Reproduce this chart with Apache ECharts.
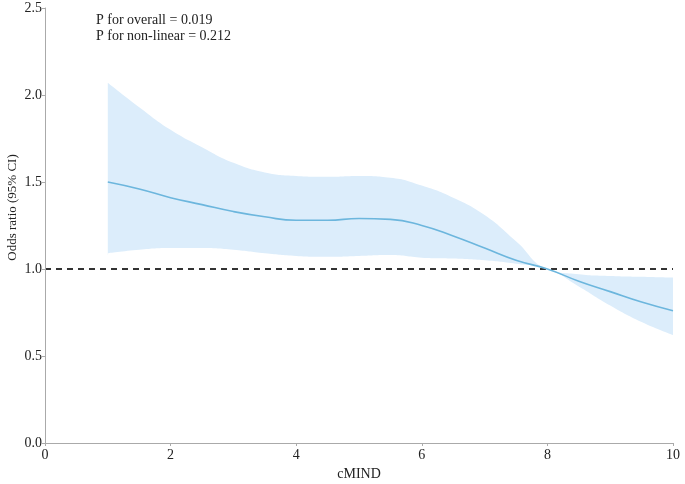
<!DOCTYPE html>
<html>
<head>
<meta charset="utf-8">
<script src="https://cdn.jsdelivr.net/npm/echarts@6/dist/echarts.min.js"></script>
<style>
  html, body { margin: 0; padding: 0; background: #fff; }
  #main { width: 685px; height: 484px; }
</style>
</head>
<body>
<div id="main"></div>
<script>
// cMIND 取值
var xs = [1, 1.5, 2, 2.5, 3, 3.5, 4, 4.5, 5, 5.5, 6, 6.5, 7, 7.5, 8, 8.5, 9, 9.5, 10];
// OR 估计值
var orValue = [1.50, 1.46, 1.41, 1.37, 1.33, 1.30, 1.28, 1.28, 1.29, 1.285, 1.25, 1.19, 1.12, 1.05, 1.00, 0.93, 0.87, 0.81, 0.76];
// 95% CI 上下限
var ciUpper = [2.07, 1.93, 1.80, 1.70, 1.61, 1.555, 1.535, 1.53, 1.535, 1.525, 1.48, 1.41, 1.31, 1.16, 1.00, 0.97, 0.96, 0.955, 0.95];
var ciLower = [1.09, 1.11, 1.12, 1.12, 1.11, 1.09, 1.075, 1.07, 1.075, 1.08, 1.065, 1.06, 1.05, 1.03, 1.00, 0.90, 0.79, 0.695, 0.62];
var refLine = 1.0;
var annotations = ['P for overall = 0.019', 'P for non-linear = 0.212'];

(function () {
  var myChart = echarts.init(document.getElementById('main'));
  var font = '"Liberation Serif", "Times New Roman", serif';

  function pairs(ys) {
    return xs.map(function (x, i) { return [x, ys[i]]; });
  }
  var first = 0, last = xs.length - 1;

  var option = {
    animation: false,
    grid: { left: 45, right: 12, top: 8, bottom: 41, outerBoundsMode: 'none', containLabel: false },
    graphic: [{
      type: 'text',
      left: 96,
      top: 12,
      z: 100,
      style: {
        text: annotations.join('\n'),
        font: '14px ' + font,
        fill: '#222',
        lineHeight: 16
      }
    }],
    xAxis: {
      type: 'value',
      min: 0,
      max: 10,
      interval: 2,
      z: 20,
      name: 'cMIND',
      nameLocation: 'middle',
      nameGap: 20,
      nameTextStyle: { fontFamily: font, fontSize: 14, color: '#222' },
      axisLine: { lineStyle: { color: '#aaa' } },
      axisTick: { show: true, length: 3, lineStyle: { color: '#aaa' } },
      axisLabel: { fontFamily: font, fontSize: 14, color: '#222', margin: 5 },
      splitLine: { show: false }
    },
    yAxis: {
      type: 'value',
      min: 0,
      max: 2.5,
      interval: 0.5,
      z: 20,
      name: 'Odds ratio (95% CI)',
      nameLocation: 'middle',
      nameGap: 26,
      nameMoveOverlap: false,
      nameTextStyle: { fontFamily: font, fontSize: 13, color: '#222', padding: [0, 0, 0, 36] },
      axisLine: { show: true, lineStyle: { color: '#aaa' } },
      axisTick: { show: true, length: 3, lineStyle: { color: '#aaa' } },
      axisLabel: {
        fontFamily: font, fontSize: 14, color: '#222', margin: 3,
        formatter: function (v) { return v.toFixed(1); }
      },
      splitLine: { show: false }
    },
    series: [
      {
        // 上限：填充到 0
        name: 'upper',
        type: 'line',
        smooth: true,
        symbol: 'none',
        lineStyle: { width: 0, opacity: 0 },
        areaStyle: { color: '#dcedfb', opacity: 1 },
        data: pairs(ciUpper),
        z: 1
      },
      {
        // 下限：白色遮住下方
        name: 'lower',
        type: 'line',
        smooth: true,
        symbol: 'none',
        lineStyle: { width: 0, opacity: 0 },
        areaStyle: { color: '#ffffff', opacity: 1 },
        data: pairs(ciLower),
        z: 2
      },
      {
        // 两端接缝处理
        name: 'edgeL',
        type: 'line',
        symbol: 'none',
        lineStyle: { color: '#ffffff', width: 2 },
        data: [[xs[first], 0], [xs[first], ciLower[first] - 0.01]],
        z: 2
      },
      {
        name: 'edgeR',
        type: 'line',
        symbol: 'none',
        lineStyle: { color: '#ffffff', width: 2 },
        data: [[xs[last], 0], [xs[last], ciLower[last] - 0.01]],
        z: 2
      },
      {
        name: 'ref',
        type: 'line',
        symbol: 'none',
        lineStyle: { color: '#333', width: 2, type: [6, 5] },
        data: [[0, refLine], [10, refLine]],
        z: 3
      },
      {
        name: 'OR',
        type: 'line',
        smooth: true,
        symbol: 'none',
        lineStyle: { color: '#6cb6dd', width: 1.6 },
        data: pairs(orValue),
        z: 4
      }
    ]
  };

  myChart.setOption(option);
  window.addEventListener('resize', function () {
    myChart.resize();
  });
})();
</script>
</body>
</html>
